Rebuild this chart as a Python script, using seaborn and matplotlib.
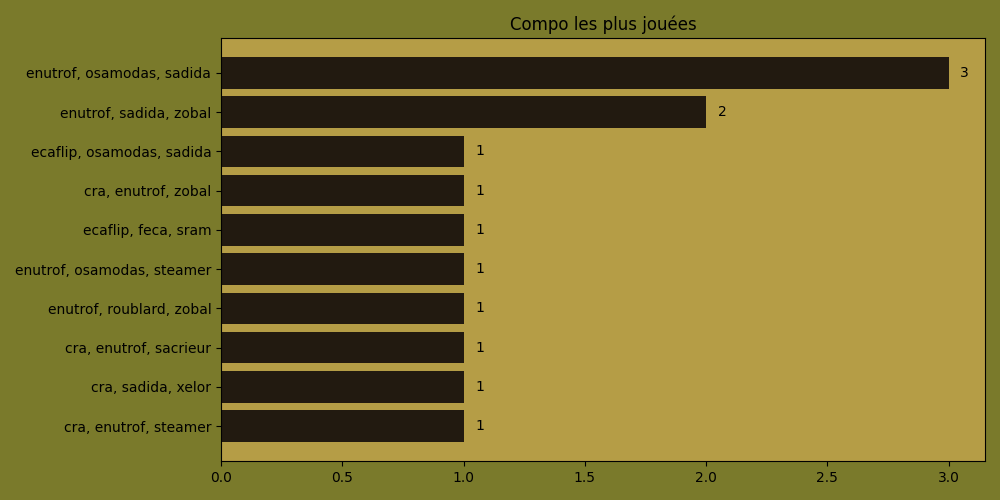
import matplotlib
matplotlib.use("Agg")
import matplotlib.pyplot as plt
import seaborn as sns
import pandas as pd

compos = [
    "enutrof, osamodas, sadida",
    "enutrof, sadida, zobal",
    "ecaflip, osamodas, sadida",
    "cra, enutrof, zobal",
    "ecaflip, feca, sram",
    "enutrof, osamodas, steamer",
    "enutrof, roublard, zobal",
    "cra, enutrof, sacrieur",
    "cra, sadida, xelor",
    "cra, enutrof, steamer",
]
counts = [3, 2, 1, 1, 1, 1, 1, 1, 1, 1]

df = pd.DataFrame({"compo": compos, "count": counts})

fig_bg = "#7a7a2b"
ax_bg = "#b59d46"
bar_color = "#221a10"

fig, ax = plt.subplots(figsize=(10, 5), dpi=100)
fig.patch.set_facecolor(fig_bg)
ax.set_facecolor(ax_bg)

sns.barplot(data=df, x="count", y="compo", orient="h", color=bar_color,
            width=0.8, saturation=1, ax=ax)
for c in ax.containers:
    ax.bar_label(c, labels=[str(v) for v in counts], padding=8.5, fontsize=10)

n = len(compos)
ax.set_ylim(n - 1 + 0.4 + 0.49, -0.4 - 0.49)
ax.set_xlim(0, 3.15)
ax.set_xlabel("")
ax.set_ylabel("")
ax.set_title("Compo les plus jouées", fontsize=12)
for s in ax.spines.values():
    s.set_color("black")
    s.set_visible(True)

fig.subplots_adjust(left=0.221, right=0.985, top=0.924, bottom=0.078)
fig.savefig("out.png", dpi=100, facecolor=fig_bg)
